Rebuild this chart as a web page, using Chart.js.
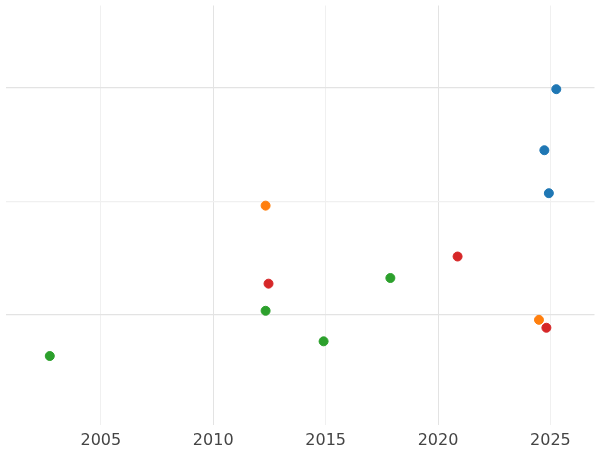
<!DOCTYPE html>
<html><head><script src="https://cdn.jsdelivr.net/npm/chart.js@4"></script>
<style>html,body{margin:0;padding:0;background:#fff}#w{width:600px;height:450px}</style></head>
<body><div id="w"><canvas id="c"></canvas></div>
<script>
const xTicks=[2005,2010,2015,2020,2025];
const yTicks=[0,1,2];
const blueX=[2025.26,2024.73,2024.93], blueY=[1.99,1.45,1.07];
const orangeX=[2012.33,2024.49], orangeY=[0.96,-0.05];
const redX=[2012.46,2020.87,2024.82], redY=[0.27,0.51,-0.12];
const greenX=[2002.73,2012.33,2014.91,2017.88], greenY=[-0.37,0.03,-0.24,0.32];
const pts=(xs,ys)=>xs.map((x,i)=>({x,y:ys[i]}));
const ds=(xs,ys,c)=>({data:pts(xs,ys),backgroundColor:c,borderColor:c,pointRadius:4.5,pointHoverRadius:4.5});
new Chart(document.getElementById('c'),{type:'scatter',
data:{datasets:[ds(blueX,blueY,'#1f77b4'),ds(orangeX,orangeY,'#ff7f0e'),ds(redX,redY,'#d62728'),ds(greenX,greenY,'#2ca02c')]},
options:{responsive:true,maintainAspectRatio:false,animation:false,layout:{padding:0},
plugins:{legend:{display:false},tooltip:{enabled:false}},
scales:{
x:{type:'linear',min:2000.76,max:2026.96,afterBuildTicks:s=>{s.ticks=xTicks.map(v=>({value:v}))},
 afterFit:s=>{s.height=25},border:{display:false},
 grid:{drawTicks:false,color:c=>(c.tick&&(c.tick.value%10===0))?'#e3e3e3':'#f0f0f0',lineWidth:1},
 ticks:{padding:6,color:'#444',font:{family:'DejaVu Sans',size:16},callback:v=>String(v)}},
y:{type:'linear',min:-0.98,max:2.73,afterBuildTicks:s=>{s.ticks=yTicks.map(v=>({value:v}))},
 afterFit:s=>{s.width=0},border:{display:false},
 grid:{drawTicks:false,color:c=>(c.tick&&c.tick.value===1)?'#f0f0f0':'#e3e3e3',lineWidth:1.2},
 ticks:{display:false}}
}}});
</script></body></html>
